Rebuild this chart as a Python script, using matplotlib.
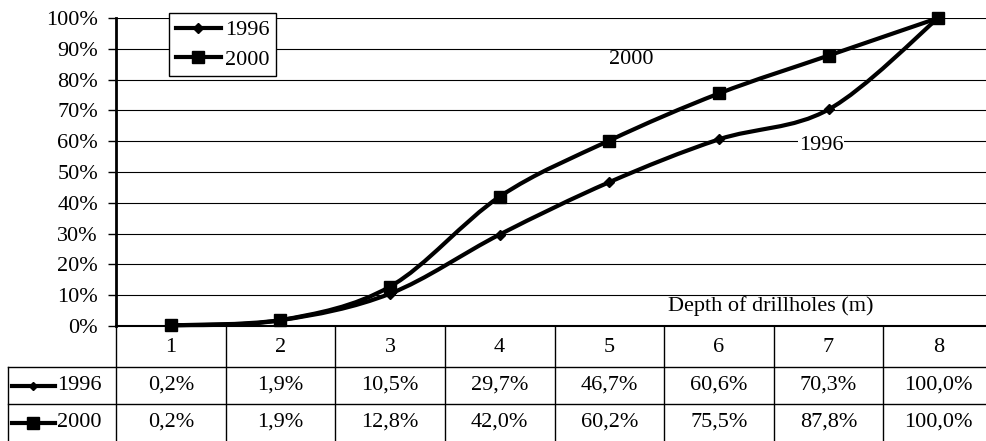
import matplotlib

matplotlib.use("Agg")
import matplotlib.pyplot as plt
import matplotlib.transforms as mtransforms
from matplotlib.lines import Line2D
from matplotlib.path import Path
from matplotlib.patches import PathPatch

depths = [1, 2, 3, 4, 5, 6, 7, 8]
share_1996 = [0.2, 1.9, 10.5, 29.7, 46.7, 60.6, 70.3, 100.0]
share_2000 = [0.2, 1.9, 12.8, 42.0, 60.2, 75.5, 87.8, 100.0]
series_names = ["1996", "2000"]
y_ticks = [0, 10, 20, 30, 40, 50, 60, 70, 80, 90, 100]

plt.rcParams["font.family"] = ["Liberation Serif", "DejaVu Serif"]
W, H = 986, 441
FS = 16


def smooth_path(xs, ys):
    # Catmull-Rom through the points, written as cubic Bezier segments
    pts = list(zip(xs, ys))
    ext = [pts[0]] + pts + [pts[-1]]
    verts, codes = [pts[0]], [Path.MOVETO]
    for i in range(1, len(ext) - 2):
        p0, p1, p2, p3 = ext[i - 1], ext[i], ext[i + 1], ext[i + 2]
        c1 = (p1[0] + (p2[0] - p0[0]) / 6, p1[1] + (p2[1] - p0[1]) / 6)
        c2 = (p2[0] - (p3[0] - p1[0]) / 6, p2[1] - (p3[1] - p1[1]) / 6)
        verts += [c1, c2, p2]
        codes += [Path.CURVE4] * 3
    return Path(verts, codes)


def fy(px):
    return 1 - px / H


fig = plt.figure(figsize=(W / 100, H / 100), dpi=100)
# plot area runs a little past the right edge of the page
ax = fig.add_axes([116 / W, fy(326), (993 - 116) / W, (326 - 18) / H])
ax.set_xlim(0.5, 8.5)
ax.set_ylim(0, 100)

for v in y_ticks[1:]:
    ax.axhline(v, color="black", lw=0.8, zorder=1)

styles = [dict(marker="D", ms=5), dict(marker="s", ms=9)]
for values, st in zip([share_1996, share_2000], styles):
    ax.add_patch(PathPatch(smooth_path(depths, values), fill=False, ec="black",
                           lw=3, zorder=3, clip_on=False))
    ax.plot(depths, values, ls="none", color="black", zorder=4, clip_on=False, **st)

ax.text(5.2, 86.5, "2000", fontsize=FS, ha="center", va="center")
ax.text(6.93, 58.5, "1996", fontsize=FS, ha="center", va="center",
        bbox=dict(fc="white", ec="none", pad=0.5))
ax.text(6.47, 6.5, "Depth of drillholes (m)", fontsize=FS, ha="center", va="center")

ax.set_yticks(y_ticks)
ax.set_yticklabels([f"{v}%" for v in y_ticks], fontsize=FS)
ax.set_xticks([])
ax.tick_params(axis="y", direction="out", length=6, width=1, pad=7)
for side in ["top", "right"]:
    ax.spines[side].set_visible(False)
ax.spines["left"].set_linewidth(2)
ax.spines["bottom"].set_linewidth(1.5)

handles = [Line2D([], [], color="black", lw=3, **st) for st in styles]
leg = ax.legend(handles, series_names, loc="upper left", bbox_to_anchor=(0.061, 1.016),
                borderaxespad=0, fancybox=False, framealpha=1, edgecolor="black",
                fontsize=FS, handlelength=2.0, handletextpad=0.2, labelspacing=0.4,
                borderpad=0.3)
leg.get_frame().set_linewidth(1)

# data table under the plot
tr = mtransforms.blended_transform_factory(ax.transData, fig.transFigure)
row_tops = [326, 367, 404, 441]
for xb in [x + 0.5 for x in [0] + depths]:
    fig.add_artist(Line2D([xb, xb], [fy(326), fy(441)], transform=tr, color="black", lw=1))
for yb in row_tops[1:3]:
    fig.add_artist(Line2D([8 / W, 1], [fy(yb), fy(yb)], transform=fig.transFigure,
                          color="black", lw=1))
fig.add_artist(Line2D([8 / W, 8 / W], [fy(367), fy(441)], transform=fig.transFigure,
                      color="black", lw=1))

for d in depths:
    fig.text(d, fy(347), str(d), transform=tr, ha="center", va="center", fontsize=FS)
for r, (name, values, st) in enumerate(zip(series_names, [share_1996, share_2000], styles)):
    yc = fy((row_tops[r + 1] + row_tops[r + 2]) / 2)
    for d, v in zip(depths, values):
        fig.text(d, yc, f"{v:.1f}%".replace(".", ","), transform=tr,
                 ha="center", va="center", fontsize=FS)
    fig.add_artist(Line2D([12 / W, 55 / W], [yc, yc], transform=fig.transFigure,
                          color="black", lw=3))
    fig.add_artist(Line2D([33 / W], [yc], transform=fig.transFigure, color="black",
                          ls="none", marker=st["marker"], ms=st["ms"] - 1))
    fig.text(57 / W, yc, name, ha="left", va="center", fontsize=FS)

fig.savefig("out.png", dpi=100)
